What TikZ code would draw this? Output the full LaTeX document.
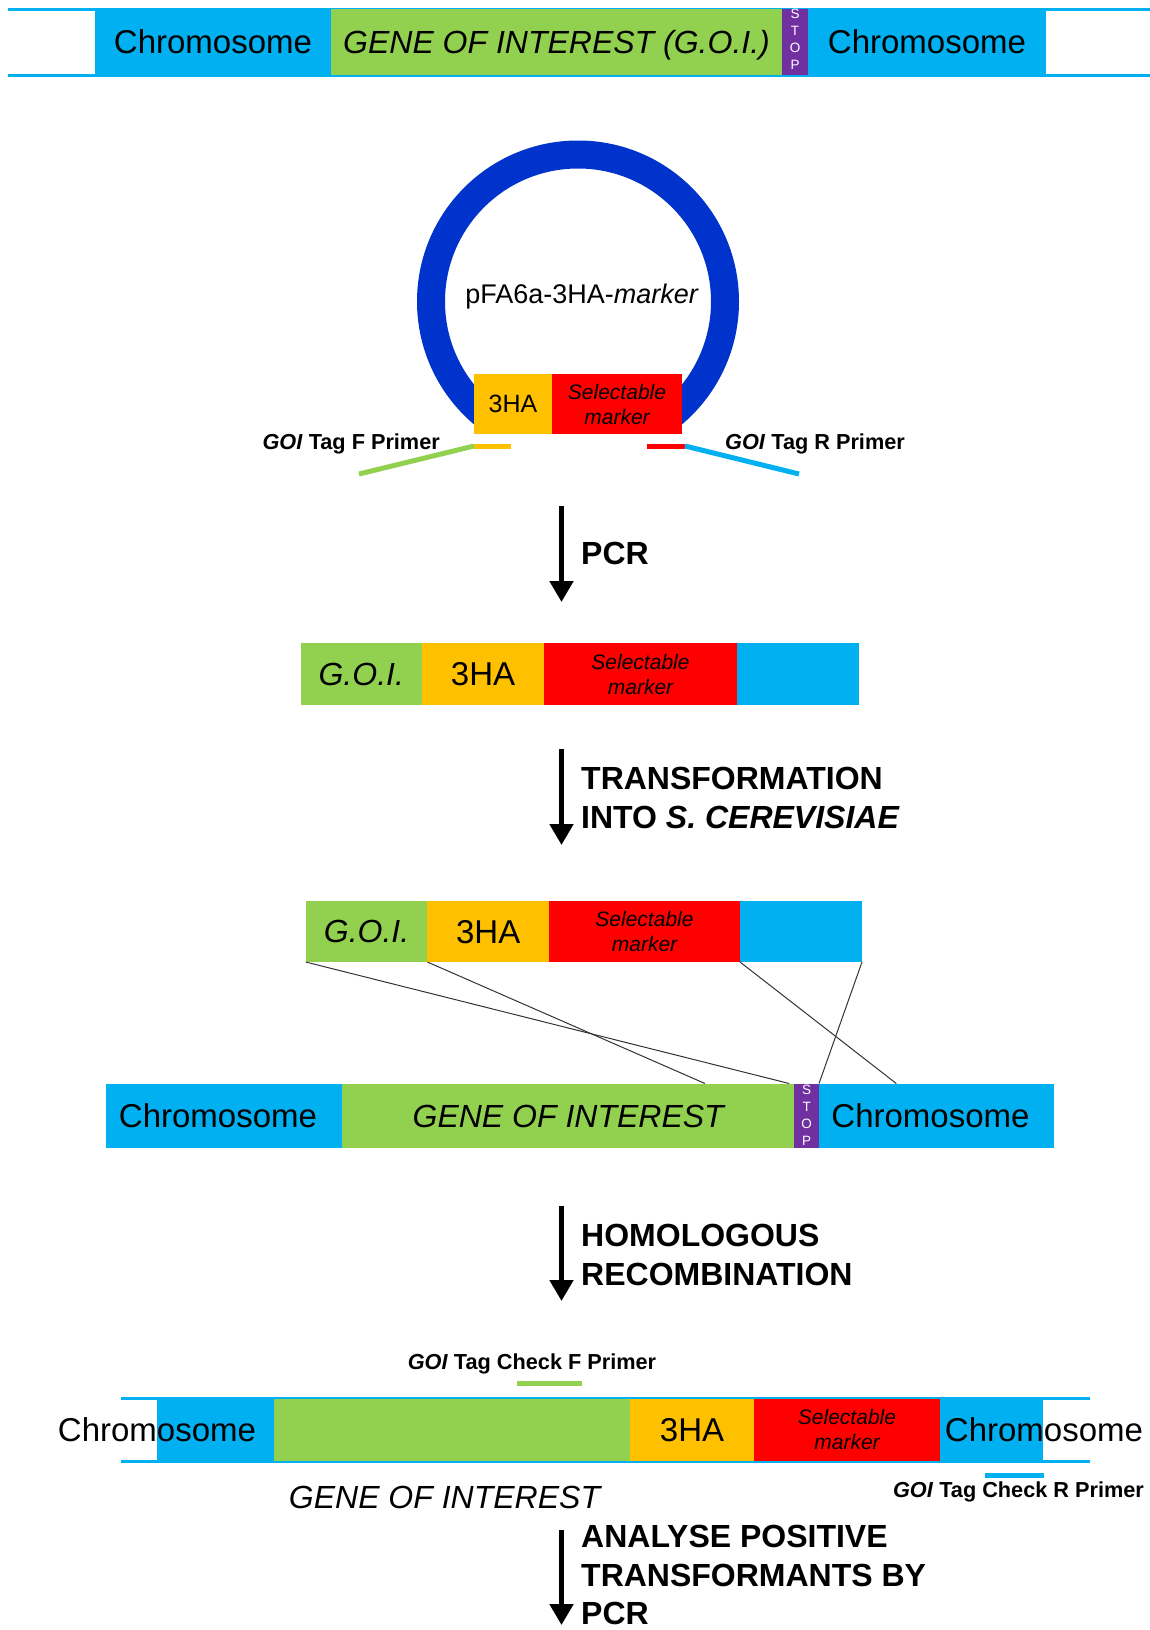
\documentclass[tikz,border=0pt]{standalone}
\usepackage{fontspec}
\setmainfont{Liberation Sans}
\usetikzlibrary{arrows.meta}
\definecolor{chromo}{HTML}{00B0F0}
\definecolor{goi}{HTML}{92D050}
\definecolor{tagha}{HTML}{FFC000}
\definecolor{selm}{HTML}{FF0000}
\definecolor{stopc}{HTML}{7030A0}
\definecolor{plasmid}{HTML}{0033CC}
\begin{document}
\begin{tikzpicture}[x=1pt,y=-1pt,
  seg/.style={anchor=north west, inner sep=0pt, outer sep=0pt, text=black},
  big/.style={font=\fontsize{33}{36}\selectfont, text height=23.5pt, text depth=0pt},
  bigit/.style={font=\fontsize{32}{36}\selectfont\itshape, text height=23pt, text depth=0pt},
  selfont/.style={font=\fontsize{21}{25}\selectfont\itshape, align=center},
  stoptext/.style={font=\fontsize{13.5}{17}\selectfont, text=white, align=center, inner sep=0pt},
  primerlabel/.style={font=\fontsize{21.7}{24}\selectfont\bfseries, inner sep=0pt},
  steplabel/.style={font=\fontsize{32}{38.5}\selectfont\bfseries, align=left, anchor=west, inner sep=0pt},
  bigarrow/.style={line width=5pt, -{Triangle[width=23pt,length=21pt]}},
  crossline/.style={draw=black!80, line width=1pt},
  rail/.style={chromo, line width=3pt},
]
\useasboundingbox (0,0) rectangle (1150,1630);

% ---- chromosome with the gene of interest
\draw[rail] (8,9.5) -- (1150,9.5);
\draw[rail] (8,75) -- (1150,75);
\node[seg, fill=chromo, minimum width=236pt, minimum height=66pt, big] (c1l) at (95,9) {Chromosome};
\node[seg, fill=goi, minimum width=451pt, minimum height=66pt, bigit] (g1) at (331,9) {GENE OF INTEREST (G.O.I.)};
\node[seg, fill=stopc, minimum width=26pt, minimum height=66pt] (s1) at (782,9) {};
\node[stoptext] at ([yshift=3pt]s1.center) {S\\T\\O\\P};
\node[seg, fill=chromo, minimum width=238pt, minimum height=66pt, big] (c1r) at (808,9) {Chromosome};

% ---- plasmid
\begin{scope}
  \clip (0,0) rectangle (1150,430);
  \draw[plasmid, line width=28pt] (578,301.5) circle[radius=147pt];
\end{scope}
\node[font=\fontsize{27}{30}\selectfont] (plab) at (582,297) {pFA6a-3HA-\textit{marker}};
\node[seg, fill=tagha, minimum width=78pt, minimum height=60pt, font=\fontsize{25}{28}\selectfont] (ha0) at (474,374) {3HA};
\node[seg, fill=selm, minimum width=130pt, minimum height=60pt, selfont] (sm0) at (552,374) {Selectable\\marker};

% primers
\draw[tagha, line width=5pt] (474,446) -- (511,446);
\draw[goi, line width=5pt] (474,446) -- (359,474);
\draw[selm, line width=5pt] (647,446) -- (685,446);
\draw[chromo, line width=5pt] (685,446) -- (799,474);
\node[primerlabel, anchor=east] (pf) at (440,444) {\textit{GOI} Tag F Primer};
\node[primerlabel, anchor=west] (pr) at (725,444) {\textit{GOI} Tag R Primer};

% ---- PCR
\draw[bigarrow] (561.5,506) -- (561.5,602);
\node[steplabel] (pcr) at (581,553) {PCR};

% ---- PCR product
\node[seg, fill=goi, minimum width=121.5pt, minimum height=62pt, bigit] (g2) at (300.5,643) {G.O.I.};
\node[seg, fill=tagha, minimum width=122pt, minimum height=62pt, big] (ha2) at (422,643) {3HA};
\node[seg, fill=selm, minimum width=193pt, minimum height=62pt, selfont] (sm2) at (544,643) {Selectable\\marker};
\node[seg, fill=chromo, minimum width=122pt, minimum height=62pt] (c2) at (737,643) {};

% ---- transformation
\draw[bigarrow] (561.5,749) -- (561.5,845);
\node[steplabel] (trf) at (581,798) {TRANSFORMATION\\INTO \textit{S. CEREVISIAE}};

% ---- product aligned to the chromosome
\node[seg, fill=goi, minimum width=121.7pt, minimum height=61.5pt, bigit] (g3) at (305.7,900.5) {G.O.I.};
\node[seg, fill=tagha, minimum width=121.6pt, minimum height=61.5pt, big] (ha3) at (427.4,900.5) {3HA};
\node[seg, fill=selm, minimum width=191pt, minimum height=61.5pt, selfont] (sm3) at (549,900.5) {Selectable\\marker};
\node[seg, fill=chromo, minimum width=122pt, minimum height=61.5pt] (c3) at (740,900.5) {};

\node[seg, fill=chromo, minimum width=236pt, minimum height=64.5pt, big] (c4l) at (106,1083.5) {Chromosome\hspace*{12pt}};
\node[seg, fill=goi, minimum width=452.4pt, minimum height=64.5pt, bigit] (g4) at (342,1083.5) {GENE OF INTEREST};
\node[seg, fill=stopc, minimum width=24.6pt, minimum height=64.5pt] (s4) at (794.4,1083.5) {};
\node[stoptext] at (s4.center) {S\\T\\O\\P};
\node[seg, fill=chromo, minimum width=235pt, minimum height=64.5pt, big] (c4r) at (819,1083.5) {Chromosome\hspace*{12pt}};

% homology crossings
\coordinate (x1) at (789.2,1083.5);
\coordinate (x2) at (705,1083.5);
\coordinate (x3) at (896.3,1083.5);
\draw[crossline] (g3.south west) -- (x1);
\draw[crossline] (ha3.south west) -- (x2);
\draw[crossline] (sm3.south east) -- (x3);
\draw[crossline] (c3.south east) -- (s4.north east);

% ---- homologous recombination
\draw[bigarrow] (561.5,1206) -- (561.5,1301);
\node[steplabel] (hr) at (581,1255) {HOMOLOGOUS\\RECOMBINATION};

% ---- tagged locus
\draw[rail] (120.6,1398.5) -- (1089.7,1398.5);
\draw[rail] (120.6,1461) -- (1089.7,1461);
\node[seg, fill=chromo, minimum width=116.5pt, minimum height=62.5pt] (c5l) at (157,1398.5) {};
\node[seg, fill=goi, minimum width=356.5pt, minimum height=62.5pt] (g5) at (273.5,1398.5) {};
\node[seg, fill=tagha, minimum width=124pt, minimum height=62.5pt, big] (ha5) at (630,1398.5) {3HA};
\node[seg, fill=selm, minimum width=186pt, minimum height=62.5pt, selfont] (sm5) at (754,1398.5) {Selectable\\marker};
\node[seg, fill=chromo, minimum width=103pt, minimum height=62.5pt] (c5r) at (940,1398.5) {};
\node[big, inner sep=0pt] (t5l) at (157,1430) {Chromosome};
\node[big, inner sep=0pt] (t5r) at (1044,1430) {Chromosome};
\node[bigit, inner sep=0pt] (t5g) at (444.5,1497) {GENE OF INTEREST};

\draw[goi, line width=5pt] (517,1383) -- (582,1383);
\node[primerlabel] (cf) at (532,1364) {\textit{GOI} Tag Check F Primer};
\draw[chromo, line width=5pt] (985,1475.5) -- (1044,1475.5);
\node[primerlabel] (cr) at (1018.5,1492) {\textit{GOI} Tag Check R Primer};

% ---- analysis
\draw[bigarrow] (561.5,1530) -- (561.5,1625);
\node[steplabel] (an) at (581,1575) {ANALYSE POSITIVE\\TRANSFORMANTS BY\\PCR};
\end{tikzpicture}
\end{document}
